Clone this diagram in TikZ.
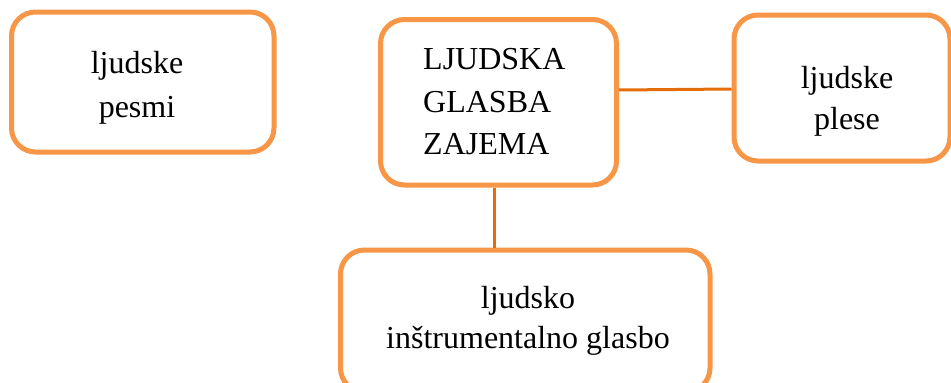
\documentclass[tikz,border=0pt]{standalone}
\usepackage{fontspec}
\setmainfont{Liberation Serif}
\definecolor{boxorange}{HTML}{F79646}
\definecolor{lineorange}{HTML}{E46C0A}
\begin{document}
\begin{tikzpicture}[x=1pt,y=-1pt,
  box/.style={draw=boxorange,line width=5pt,rounded corners=24pt,fill=white},
  conn/.style={draw=lineorange,line width=3pt},
  txt/.style={anchor=base,inner sep=0pt,font=\fontsize{32}{42}\selectfont},
  txtl/.style={anchor=base west,inner sep=0pt,font=\fontsize{32}{42}\selectfont}]
\useasboundingbox (0,0) rectangle (951,383);
\clip (0,0) rectangle (951,383);
% boxes
\node[box,minimum width=262.5pt,minimum height=140pt,inner sep=0pt] (pesmi) at (142.75,82) {};
\node[box,minimum width=236pt,minimum height=165.5pt,inner sep=0pt] (glasba) at (498.5,102.25) {};
\node[box,minimum width=216pt,minimum height=146pt,inner sep=0pt] (plese) at (842,88) {};
\node[box,minimum width=369.5pt,minimum height=142pt,inner sep=0pt] (instr) at (525.25,321) {};
% connectors
\coordinate (gr) at (glasba.east |- 0,90);
\coordinate (pl) at (plese.west |- 0,89);
\draw[conn] (gr) -- (pl);
\coordinate (gb) at (494,0 |- glasba.south);
\coordinate (ib) at (494,0 |- instr.north);
\draw[conn] (gb) -- (ib);
% texts
\node[txt] (t1a) at (137,73) {ljudske};
\node[txt] (t1b) at (137,117) {pesmi};
\node[txtl] (t2a) at (423,69) {LJUDSKA};
\node[txtl] (t2b) at (423,112) {GLASBA};
\node[txtl] (t2c) at (423,154) {ZAJEMA};
\node[txt] (t3a) at (847,88) {ljudske};
\node[txt] (t3b) at (847,129) {plese};
\node[txt] (t4a) at (528,308) {ljudsko};
\node[txt] (t4b) at (528,348) {inštrumentalno glasbo};
\end{tikzpicture}
\end{document}
